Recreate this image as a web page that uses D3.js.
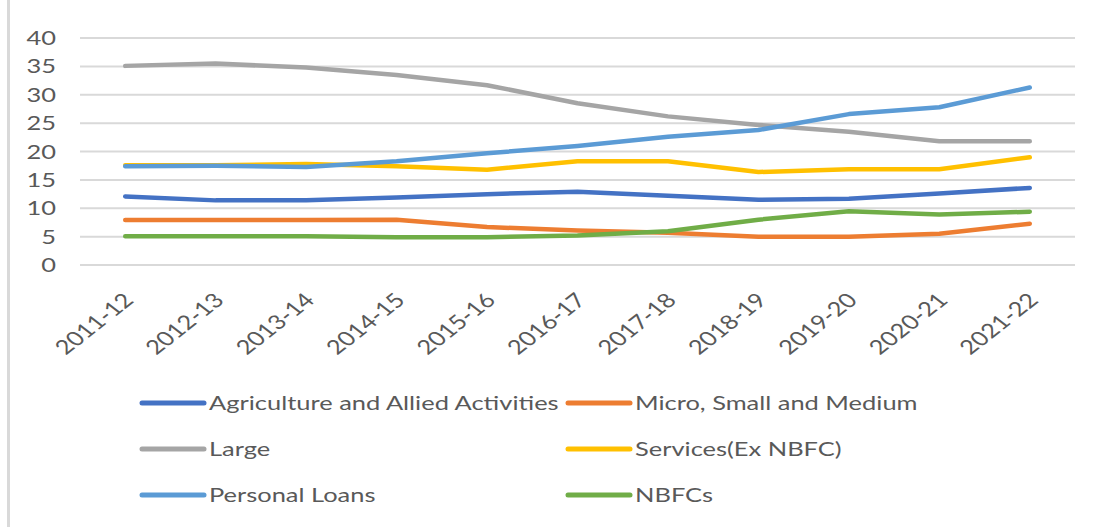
<!DOCTYPE html>
<html>
<head>
<meta charset="utf-8">
<script src="https://cdn.jsdelivr.net/npm/d3@7"></script>
<style>
  html, body { margin: 0; padding: 0; background: #fff; }
  svg { display: block; }
  text { font-family: Lato, "Open Sans", sans-serif; font-size: 20px; fill: #595959; }
</style>
</head>
<body>
<svg id="chart" width="1095" height="527"></svg>
<script>
// Financial years on the category axis
const years = ["2011-12", "2012-13", "2013-14", "2014-15", "2015-16", "2016-17",
               "2017-18", "2018-19", "2019-20", "2020-21", "2021-22"];

// Value axis ticks
const yTicks = [0, 5, 10, 15, 20, 25, 30, 35, 40];

// Sector shares, one array per series
const agriculture = [12.0, 11.3, 11.3, 11.8, 12.4, 12.8, 12.1, 11.4, 11.6, 12.5, 13.5];
const msme        = [7.85, 7.85, 7.85, 7.9, 6.6, 6.0, 5.6, 4.9, 4.9, 5.4, 7.2];
const large       = [35.0, 35.4, 34.7, 33.4, 31.6, 28.4, 26.1, 24.6, 23.4, 21.7, 21.7];
const services    = [17.5, 17.5, 17.7, 17.3, 16.7, 18.2, 18.2, 16.3, 16.8, 16.8, 18.9];
const personal    = [17.3, 17.4, 17.2, 18.2, 19.6, 20.9, 22.5, 23.7, 26.5, 27.7, 31.2];
const nbfcs       = [5.0, 5.0, 5.0, 4.8, 4.8, 5.1, 5.85, 7.9, 9.4, 8.8, 9.3];

const seriesNames  = ["Agriculture and Allied Activities", "Micro, Small and Medium", "Large",
                      "Services(Ex NBFC)", "Personal Loans", "NBFCs"];
const seriesValues = [agriculture, msme, large, services, personal, nbfcs];
const seriesColors = ["#4472C4", "#ED7D31", "#A5A5A5", "#FFC000", "#5B9BD5", "#70AD47"];

const svg = d3.select("#chart");

// Frame line along the left edge
svg.append("line")
  .attr("x1", 8.5).attr("x2", 8.5).attr("y1", 0).attr("y2", 527)
  .attr("stroke", "#d9d9d9").attr("stroke-width", 3);

const plotLeft = 80, plotRight = 1075, plotTop = 37.5, plotBottom = 264.5;

const x = d3.scalePoint().domain(years).range([plotLeft, plotRight]).padding(0.5);
const y = d3.scaleLinear().domain([0, 40]).range([plotBottom, plotTop]);

// Text in this chart is drawn wide; derive the horizontal stretch from a reference label
const probe = svg.append("text").text(seriesNames[0]);
const sx = 350 / probe.node().getComputedTextLength();
probe.remove();

// Horizontal gridlines with value labels
const yAxis = svg.append("g")
  .attr("transform", `translate(${plotLeft},0)`)
  .call(d3.axisLeft(y).tickValues(yTicks).tickSize(-(plotRight - plotLeft)).tickFormat(d3.format("d")));
yAxis.select(".domain").remove();
yAxis.selectAll(".tick line").attr("stroke", "#d9d9d9").attr("stroke-width", 2);
yAxis.selectAll(".tick text")
  .attr("x", 0).attr("dy", "0.35em")
  .attr("text-anchor", "end")
  .attr("transform", `translate(-24,0) scale(${sx},1)`)
  .style("font-size", "20px").style("font-family", "Lato, 'Open Sans', sans-serif")
  .attr("fill", "#595959");

// Category labels, rotated
const xAxis = svg.append("g")
  .attr("transform", `translate(0,${plotBottom})`)
  .call(d3.axisBottom(x).tickSize(0));
xAxis.select(".domain").remove();
xAxis.selectAll(".tick text")
  .attr("y", 0).attr("dy", "0.35em")
  .attr("text-anchor", "end")
  .attr("transform", `translate(3,32) scale(${sx},1) rotate(-45)`)
  .style("font-size", "20px").style("font-family", "Lato, 'Open Sans', sans-serif")
  .attr("fill", "#595959");

// Series lines
const line = d3.line()
  .x((d, i) => x(years[i]))
  .y(d => y(d));

svg.append("g")
  .selectAll("path")
  .data(seriesValues)
  .join("path")
  .attr("d", line)
  .attr("fill", "none")
  .attr("stroke", (d, i) => seriesColors[i])
  .attr("stroke-width", 4.5)
  .attr("stroke-linejoin", "round")
  .attr("stroke-linecap", "round");

// Legend: two columns, three rows
const legendCols = [140, 566];
const legendRows = [403, 449, 495];
const legend = svg.append("g")
  .selectAll("g")
  .data(seriesNames)
  .join("g")
  .attr("transform", (d, i) => `translate(${legendCols[i % 2]},${legendRows[Math.floor(i / 2)]})`);

legend.append("line")
  .attr("x1", 2).attr("x2", 64).attr("y1", 0).attr("y2", 0)
  .attr("stroke", (d, i) => seriesColors[i])
  .attr("stroke-width", 5)
  .attr("stroke-linecap", "round");

legend.append("text")
  .attr("dy", "0.35em")
  .attr("transform", `translate(69,0) scale(${sx},1)`)
  .text(d => d);
</script>
</body>
</html>
